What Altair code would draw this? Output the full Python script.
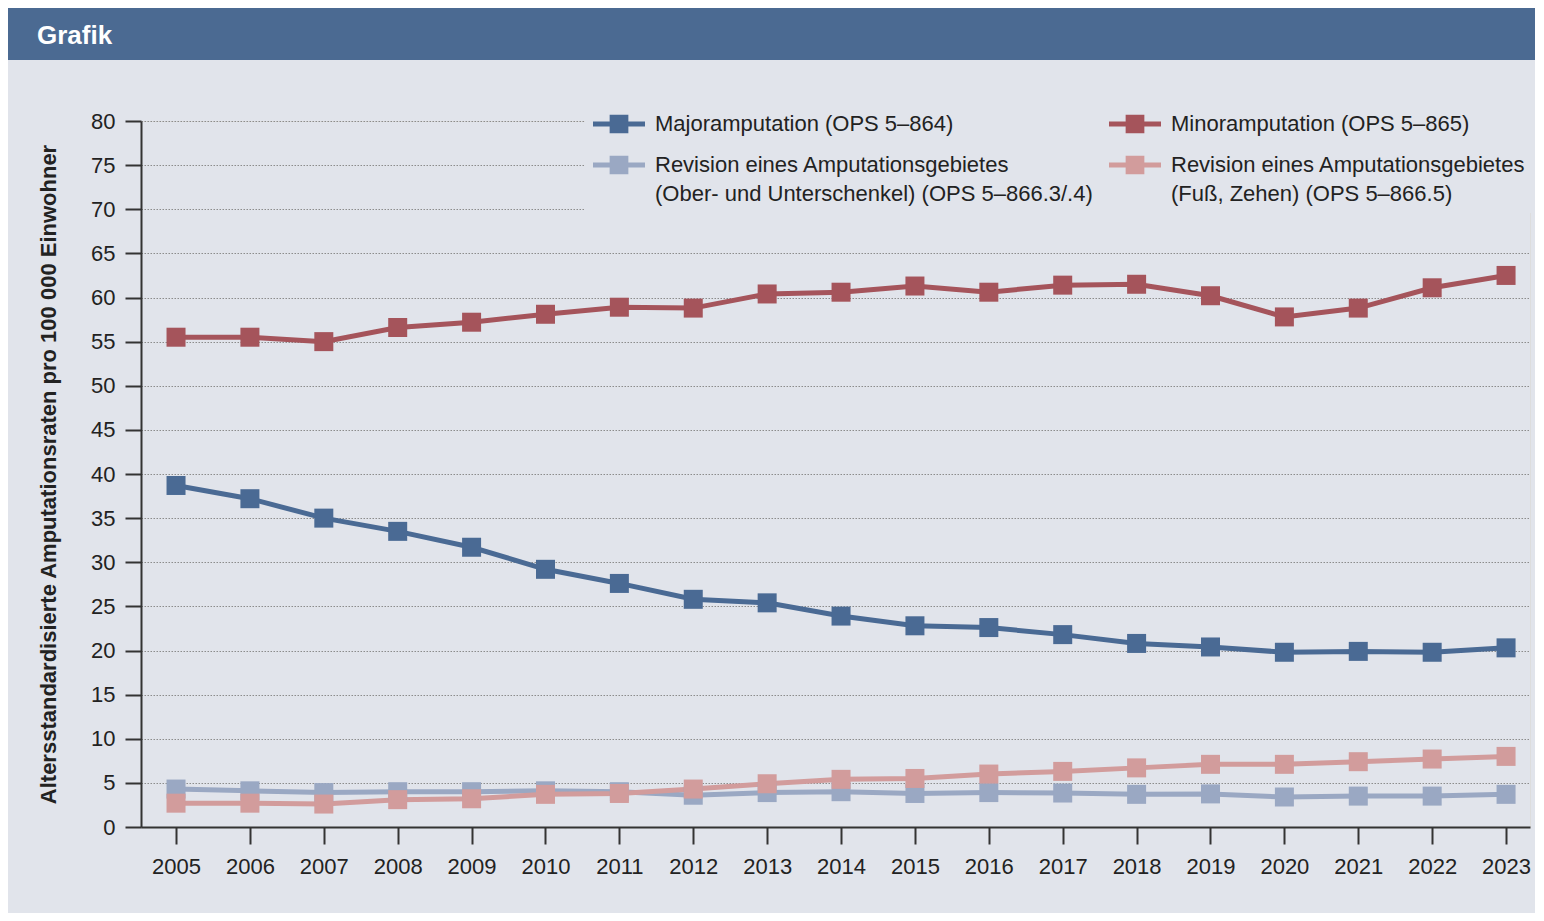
import altair as alt
import pandas as pd

years = list(range(2005, 2024))
# legend order (column-major in a 2-column legend): Major, Rev legs, Minor, Rev foot
series_names = [
    "Majoramputation (OPS 5–864)",
    "Revision eines Amputationsgebietes|(Ober- und Unterschenkel) (OPS 5–866.3/.4)",
    "Minoramputation (OPS 5–865)",
    "Revision eines Amputationsgebietes|(Fuß, Zehen) (OPS 5–866.5)",
]
series_colors = ["#4a6a94", "#9aa8c3", "#a5545b", "#d29c9c"]

major = [38.7, 37.2, 35.0, 33.5, 31.7, 29.2, 27.6, 25.8, 25.4, 23.9,
         22.8, 22.6, 21.8, 20.8, 20.4, 19.8, 19.9, 19.8, 20.3]
minor = [55.5, 55.5, 55.0, 56.6, 57.2, 58.1, 58.9, 58.8, 60.4, 60.6,
         61.3, 60.6, 61.4, 61.5, 60.2, 57.8, 58.8, 61.1, 62.5]
rev_leg = [4.3, 4.1, 3.9, 4.0, 4.0, 4.1, 4.0, 3.6, 3.9, 4.0,
           3.8, 3.9, 3.85, 3.7, 3.75, 3.4, 3.5, 3.5, 3.7]
rev_foot = [2.7, 2.7, 2.6, 3.1, 3.2, 3.7, 3.8, 4.3, 4.9, 5.4,
            5.5, 6.0, 6.3, 6.7, 7.1, 7.1, 7.4, 7.7, 8.0]
y_ticks = list(range(0, 85, 5))

header_title = "Grafik"
y_title = "Altersstandardisierte Amputationsraten pro 100 000 Einwohner"

rows = []
for name, vals in zip([series_names[0], series_names[2], series_names[1], series_names[3]],
                      [major, minor, rev_leg, rev_foot]):
    for yr, v in zip(years, vals):
        rows.append({"Jahr": yr, "Wert": v, "Serie": name})
df = pd.DataFrame(rows)

FONT = "Liberation Sans"
BG = "#e1e4eb"
HEADER = "#4b6a92"
AXIS = "#333333"

W, H = 1389, 706

x_enc = alt.X("Jahr:Q",
              scale=alt.Scale(domain=[2004.526, 2023.324], nice=False, zero=False),
              axis=alt.Axis(values=years, format="d", title=None, grid=False,
                            tickSize=17, labelPadding=12, labelFontSize=22,
                            domainColor=AXIS, tickColor=AXIS, domainWidth=2,
                            tickWidth=2, labelColor="#222222"))
y_enc = alt.Y("Wert:Q",
              scale=alt.Scale(domain=[0, 80], nice=False),
              axis=alt.Axis(values=y_ticks, title=y_title, grid=True,
                            gridColor="#8c8c8c", gridDash=[1.5, 1.5], gridWidth=1.2,
                            tickSize=16, labelPadding=10, labelFontSize=22,
                            domainColor=AXIS, tickColor=AXIS, domainWidth=2,
                            tickWidth=2, labelColor="#222222",
                            titleFontSize=22, titleFontWeight="bold",
                            titleColor="#222222", titlePadding=30))

sym_path = ("M-1,-0.1L1,-0.1L1,0.1L-1,0.1Z "
            "M-0.36,-0.36L0.36,-0.36L0.36,0.36L-0.36,0.36Z")


def make_legend():
    return alt.Legend(
        title=None, orient="none", legendX=444, legendY=-31,
        columns=2, columnPadding=16, rowPadding=4,
        padding=8, fillColor=BG,
        symbolType=sym_path, symbolSize=2704, symbolStrokeWidth=0,
        labelOffset=10, labelFontSize=22, labelFont=FONT,
        labelColor="#222222", labelLimit=1000,
        labelExpr="split(datum.label, '|')")


color_scale = alt.Scale(domain=series_names, range=series_colors)

base = alt.Chart(df)

lines = base.mark_line(strokeWidth=5).encode(
    x=x_enc, y=y_enc,
    stroke=alt.Stroke("Serie:N", scale=color_scale, legend=make_legend()),
)

points = base.mark_point(shape="square", size=361, filled=True, opacity=1).encode(
    x=x_enc, y=y_enc,
    color=alt.Color("Serie:N", scale=color_scale, legend=make_legend()),
)

hdr_df = pd.DataFrame({"t": [header_title]})
banner = alt.Chart(hdr_df).mark_rect(color=HEADER).encode(
    x=alt.value(-133), x2=alt.value(1394), y=alt.value(-113), y2=alt.value(-61))
banner_text = alt.Chart(hdr_df).mark_text(
    align="left", baseline="middle", font=FONT, fontSize=26,
    fontWeight="bold", color="white").encode(
    x=alt.value(-104), y=alt.value(-85), text="t:N")

chart = alt.layer(banner, banner_text, lines, points).properties(
    width=W, height=H,
    padding={"left": 0, "top": 0, "right": 0, "bottom": 36},
    background=BG,
).configure_view(stroke=None).configure_axis(
    labelFont=FONT, titleFont=FONT
).configure(
    style={"guide-label": {"lineHeight": 29}}
)

chart.save("out.html", embed_options={"renderer": "svg", "actions": False})
